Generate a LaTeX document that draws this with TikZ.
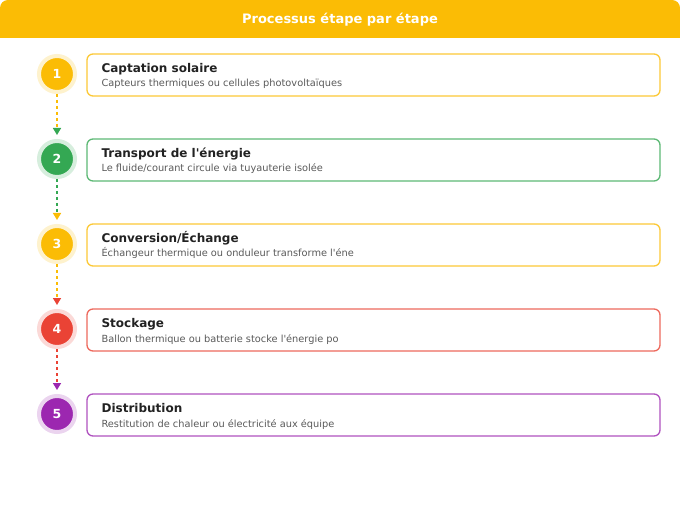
\documentclass[tikz,border=0pt]{standalone}
\usepackage{fontspec}
\setmainfont{DejaVu Sans}
\usetikzlibrary{positioning}
\usetikzlibrary{arrows.meta}

\definecolor{stepyellow}{HTML}{FBBC05}
\definecolor{stepgreen}{HTML}{34A853}
\definecolor{stepred}{HTML}{EA4335}
\definecolor{steppurple}{HTML}{9C27B0}
\definecolor{titleink}{HTML}{222222}
\definecolor{descink}{HTML}{5A5A5A}

\begin{document}
\begin{tikzpicture}[x = 1pt, y = -1pt,
		stepdot/.style = {circle, minimum size = 36pt, inner sep = 0pt, fill = #1, draw = #1!20, line width = 4pt, text = white, font = \bfseries\fontsize{12.5}{14}\selectfont},
		stepbox/.style = {rounded corners = 6pt, draw = #1!80, line width = 1.3pt, fill = white, minimum width = 573pt, minimum height = 42pt, inner sep = 0pt},
		steptitle/.style = {anchor = base west, inner sep = 0pt, text = titleink, font = \bfseries\fontsize{12}{14}\selectfont},
		stepdesc/.style = {anchor = base west, inner sep = 0pt, text = descink, font = \fontsize{9.8}{12}\selectfont},
		flow/.style = {line width = 1.5pt, dash pattern = on 3pt off 3pt}]
	\useasboundingbox (0, 0) rectangle (680, 505);
	\fill [white] (0, 0) rectangle (680, 505);
	% header
	\fill [stepyellow] (0, 38) {[rounded corners = 8pt] -- (0, 0) -- (680, 0)} -- (680, 38) -- cycle;
	\node [anchor = base, inner sep = 0pt, text = white, font = \bfseries\fontsize{13}{15}\selectfont] (header) at (340, 24) {Processus étape par étape};
	% steps
	\foreach \i/\col/\title/\desc in {
			1/stepyellow/{Captation solaire}/{Capteurs thermiques ou cellules photovoltaïques},
			2/stepgreen/{Transport de l\textquotesingle énergie}/{Le fluide/courant circule via tuyauterie isolée},
			3/stepyellow/{Conversion/Échange}/{Échangeur thermique ou onduleur transforme l\textquotesingle éne},
			4/stepred/{Stockage}/{Ballon thermique ou batterie stocke l\textquotesingle énergie po},
			5/steppurple/{Distribution}/{Restitution de chaleur ou électricité aux équipe}} {
		\node [stepdot = \col] (dot\i) at (57, {74 + 85 * (\i - 1)}) {\i};
		\node [stepbox = \col] (box\i) at (373.5, {75 + 85 * (\i - 1)}) {};
		\node [steptitle] (title\i) at ([xshift = 15pt, yshift = 2.5pt] box\i.west) {\title};
		\node [stepdesc] (desc\i) at ([xshift = 15pt, yshift = -12pt] box\i.west) {\desc};
	}
	% connectors
	\foreach \i/\j/\ca/\cb in {1/2/stepyellow/stepgreen, 2/3/stepgreen/stepyellow, 3/4/stepyellow/stepred, 4/5/stepred/steppurple}
		\draw [flow, \ca, -{Triangle[color = \cb, length = 7pt, width = 8pt]}, shorten > = 4pt] (dot\i) -- (dot\j);
\end{tikzpicture}
\end{document}
